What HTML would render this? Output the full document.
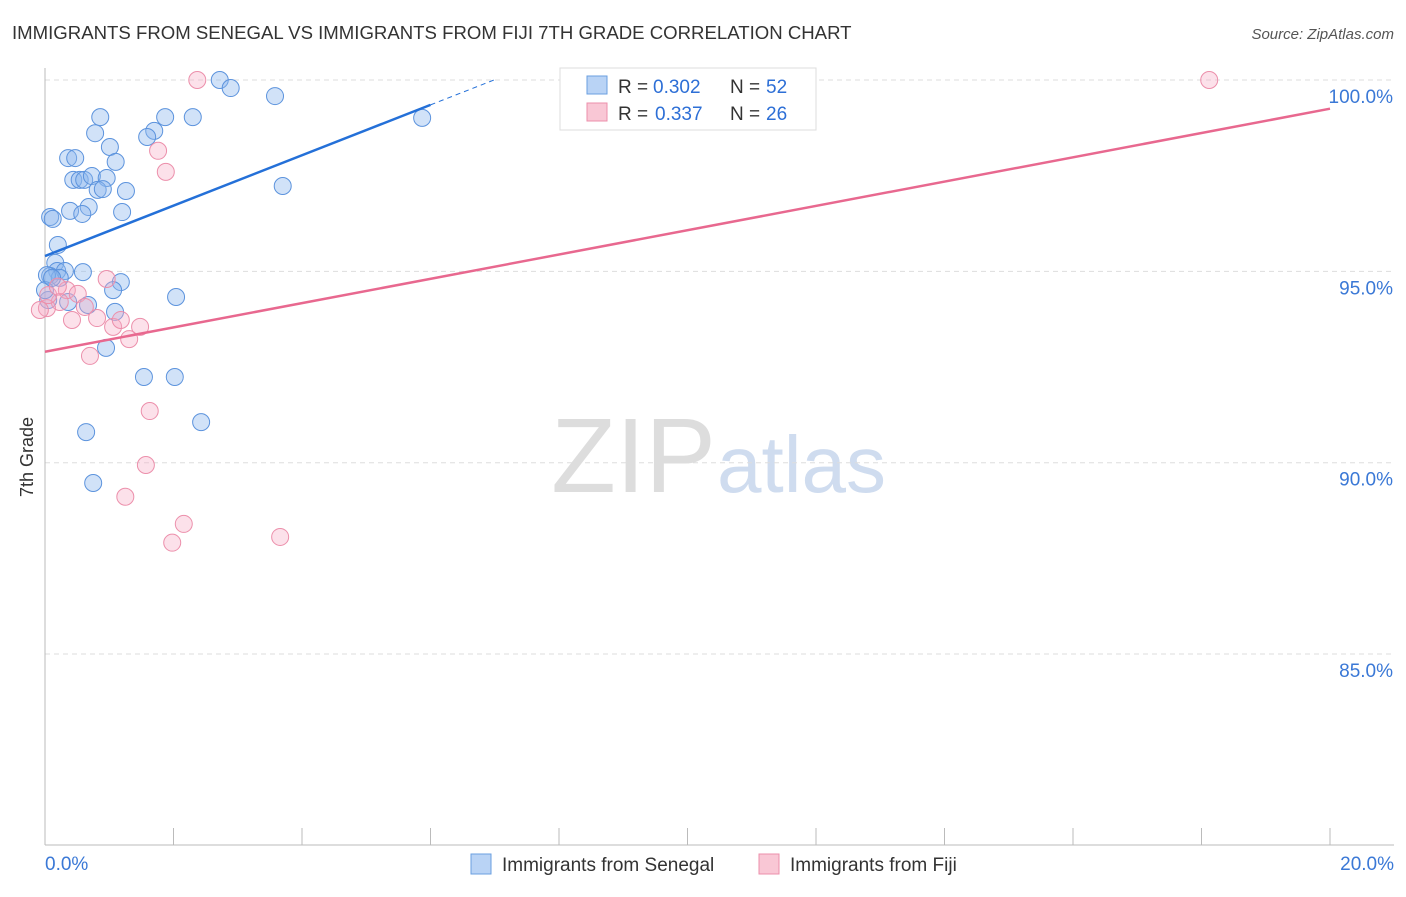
<!DOCTYPE html>
<html><head><meta charset="utf-8"><style>
body{margin:0;background:#fff;font-family:"Liberation Sans",sans-serif;}
svg text{font-family:"Liberation Sans",sans-serif;}
</style></head><body>
<svg width="1406" height="892" id="chart">
<text x="12" y="39" font-size="18.6" fill="#333">IMMIGRANTS FROM SENEGAL VS IMMIGRANTS FROM FIJI 7TH GRADE CORRELATION CHART</text>
<text x="1394" y="39" font-size="15" fill="#555" text-anchor="end" font-style="italic">Source: ZipAtlas.com</text>
<text x="33" y="457" font-size="18" fill="#333" transform="rotate(-90 33 457)" text-anchor="middle">7th Grade</text>
<text x="716" y="492" font-size="106" fill="#ddd" text-anchor="end" font-family="Liberation Serif">ZIP</text>
<text x="717" y="492" font-size="80" fill="#cfdcef">atlas</text>
<g id="grid"></g><g id="pts"></g><g id="lines"></g>
<g>
<rect x="560" y="68" width="256" height="62" fill="#fff" stroke="#ddd"/>
<rect x="587" y="76" width="20" height="18" fill="#b9d3f5" stroke="#6a9fe0"/>
<text x="618" y="93" font-size="19" fill="#333">R =</text>
<text x="653" y="93" font-size="19" fill="#2d6fd6">0.302</text>
<text x="730" y="93" font-size="19" fill="#333">N =</text>
<text x="766" y="93" font-size="19" fill="#2d6fd6">52</text>
<rect x="587" y="103" width="20" height="18" fill="#f9c7d5" stroke="#ec8fab"/>
<text x="618" y="120" font-size="19" fill="#333">R =</text>
<text x="655" y="120" font-size="19" fill="#2d6fd6">0.337</text>
<text x="730" y="120" font-size="19" fill="#333">N =</text>
<text x="766" y="120" font-size="19" fill="#2d6fd6">26</text>
</g>
<g>
<rect x="471" y="854" width="20" height="20" fill="#b9d3f5" stroke="#6a9fe0"/>
<text x="502" y="871" font-size="19" fill="#333">Immigrants from Senegal</text>
<rect x="759" y="854" width="20" height="20" fill="#f9c7d5" stroke="#ec8fab"/>
<text x="790" y="871" font-size="19" fill="#333">Immigrants from Fiji</text>
</g>
</svg>
<script>
const yTicks=[100,95,90,85];
const yTickLabels=["100.0%","95.0%","90.0%","85.0%"];
const xTickLabels=["0.0%","20.0%"];
const blueX=[2.72,2.89,3.58,0.86,1.87,2.30,5.87,0.78,1.70,1.59,1.01,0.36,0.47,1.10,0.44,0.54,0.61,0.73,0.96,0.82,0.90,1.26,3.70,0.68,0.39,0.58,1.20,0.08,0.12,0.20,0.16,0.19,0.08,0.31,0.59,0.23,1.18,1.06,2.04,0.36,0.67,1.09,0.95,1.54,2.02,2.43,0.64,0.75,0.05,0.03,0.00,0.11];
const blueY=[100.0,99.79,99.58,99.03,99.03,99.03,99.01,98.61,98.67,98.51,98.25,97.96,97.96,97.86,97.39,97.39,97.39,97.49,97.44,97.13,97.15,97.10,97.23,96.68,96.58,96.50,96.55,96.42,96.37,95.69,95.22,95.01,94.88,95.01,94.98,94.83,94.72,94.51,94.33,94.20,94.12,93.94,93.00,92.24,92.24,91.06,90.80,89.47,94.25,94.90,94.51,94.83];
const pinkX=[2.37,18.12,1.76,1.88,0.96,0.34,0.51,0.23,0.03,0.62,0.42,0.81,1.06,1.18,1.48,1.31,0.70,1.63,1.57,1.25,2.16,1.98,3.66,0.05,-0.08,0.20];
const pinkY=[100.0,100.0,98.15,97.60,94.80,94.51,94.41,94.20,94.04,94.07,93.73,93.78,93.55,93.73,93.55,93.23,92.79,91.35,89.94,89.11,88.40,87.91,88.06,94.38,93.99,94.60];
const blueLine=[0,95.4,6,99.35];
const pinkLine=[0,92.9,20,99.25];
const NS="http://www.w3.org/2000/svg";
const sx=v=>45+v/20*1285, sy=v=>80+(100-v)*38.27;
function mk(t,a,p){const e=document.createElementNS(NS,t);for(const k in a)e.setAttribute(k,a[k]);p.appendChild(e);return e;}
const grid=document.getElementById('grid');
yTicks.forEach((t,i)=>{
 const l=mk('line',{x1:45,x2:1394,y1:sy(t),y2:sy(t),stroke:'#ddd','stroke-dasharray':'5,4'},grid);
 
 
 const tx=mk('text',{x:1393,y:sy(t)+23,'font-size':19,fill:'#3a78d6','text-anchor':'end'},grid);tx.textContent=yTickLabels[i];
 
 
});
const ax=mk('line',{x1:45,x2:45,y1:68,y2:845,stroke:'#bbb'},grid);


const bx=mk('line',{x1:45,x2:1394,y1:845,y2:845,stroke:'#bbb'},grid);


for(let i=0;i<=10;i++){const t=mk('line',{x1:sx(i*2),x2:sx(i*2),y1:828,y2:845,stroke:'#bbb'},grid);
 
 }
[[0,'start',45],[20,'end',1394]].forEach((d,i)=>{const t=mk('text',{x:d[2],y:870,'font-size':19,fill:'#3a78d6','text-anchor':d[1]},grid);t.textContent=xTickLabels[i];
 
 });
const pts=document.getElementById('pts');
blueX.forEach((x,i)=>{const c=mk('circle',{cx:sx(x),cy:sy(blueY[i]),r:8.5,fill:'rgba(140,182,238,0.4)',stroke:'#5c93dd','stroke-width':1},pts);
 
 });
pinkX.forEach((x,i)=>{const c=mk('circle',{cx:sx(x),cy:sy(pinkY[i]),r:8.5,fill:'rgba(246,170,195,0.35)',stroke:'#ec8fab','stroke-width':1},pts);
 
 });
const lines=document.getElementById('lines');
const slope=(blueLine[3]-blueLine[1])/(blueLine[2]-blueLine[0]);
const bl=mk('line',{x1:sx(blueLine[0]),y1:sy(blueLine[1]),x2:sx(blueLine[2]),y2:sy(blueLine[3]),stroke:'#2470d8','stroke-width':2.5},lines);


const xe=blueLine[2]+(100-blueLine[3])/slope;
const bd=mk('line',{x1:sx(blueLine[2]),y1:sy(blueLine[3]),x2:sx(xe),y2:sy(100),stroke:'#2470d8','stroke-width':1,'stroke-dasharray':'5,4'},lines);


const pl=mk('line',{x1:sx(pinkLine[0]),y1:sy(pinkLine[1]),x2:sx(pinkLine[2]),y2:sy(pinkLine[3]),stroke:'#e8688f','stroke-width':2.5},lines);


</script>
</body></html>
